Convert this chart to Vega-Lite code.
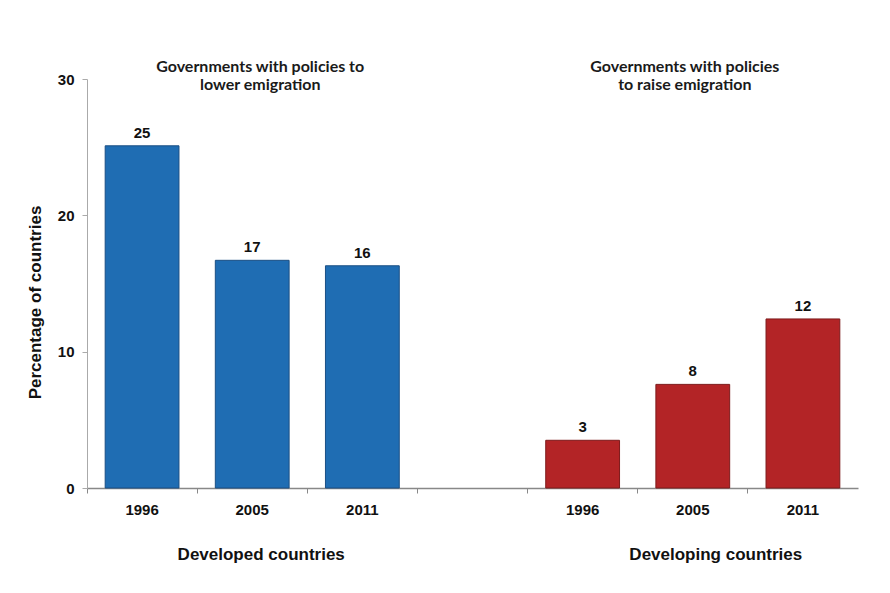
{
  "$schema": "https://vega.github.io/schema/vega-lite/v6.json",
  "width": 771,
  "height": 409,
  "autosize": "none",
  "padding": {"left": 87, "top": 79, "right": 32, "bottom": 105},
  "background": "#ffffff",
  "config": {
    "view": {"stroke": null},
    "font": "Liberation Sans"
  },
  "data": {
    "values": [
      {"cat": "D1996", "group": "Developed countries", "value": 25.1, "label": "25"},
      {"cat": "D2005", "group": "Developed countries", "value": 16.7, "label": "17"},
      {"cat": "D2011", "group": "Developed countries", "value": 16.3, "label": "16"},
      {"cat": "L1996", "group": "Developing countries", "value": 3.5, "label": "3"},
      {"cat": "L2005", "group": "Developing countries", "value": 7.6, "label": "8"},
      {"cat": "L2011", "group": "Developing countries", "value": 12.4, "label": "12"}
    ]
  },
  "encoding": {
    "x": {
      "field": "cat",
      "type": "nominal",
      "scale": {
        "domain": ["D1996", "D2005", "D2011", "gap", "L1996", "L2005", "L2011"],
        "paddingInner": 0,
        "paddingOuter": 0
      },
      "axis": {
        "title": null,
        "labelAngle": 0,
        "labelExpr": "datum.value == 'gap' ? '' : slice(datum.value, 1)",
        "labelFont": "Liberation Sans",
        "labelFontWeight": "bold",
        "labelFontSize": 15,
        "labelColor": "#111111",
        "labelPadding": 9,
        "bandPosition": 0,
        "tickSize": 5,
        "tickColor": "#888888",
        "domainColor": "#888888",
        "domainWidth": 1.5
      }
    }
  },
  "layer": [
    {
      "mark": {"type": "bar", "strokeWidth": 1, "width": {"band": 0.67}},
      "encoding": {
        "y": {
          "field": "value",
          "type": "quantitative",
          "scale": {"domain": [0, 30], "nice": false},
          "axis": {
            "title": "Percentage of countries",
            "values": [0, 10, 20, 30],
            "grid": false,
            "labelFont": "Liberation Sans",
            "labelFontWeight": "bold",
            "labelFontSize": 15,
            "labelColor": "#111111",
            "labelPadding": 8,
            "tickSize": 5,
            "tickColor": "#aaaaaa",
            "domainColor": "#aaaaaa",
            "titleFont": "Liberation Sans",
            "titleFontWeight": "bold",
            "titleFontSize": 17,
            "titleColor": "#111111",
            "titleAngle": -90,
            "titleAlign": "center",
            "titleBaseline": "middle",
            "titleX": -52,
            "titleY": 223
          }
        },
        "color": {
          "field": "group",
          "type": "nominal",
          "scale": {"domain": ["Developed countries", "Developing countries"], "range": ["#1f6db3", "#b32426"]},
          "legend": null
        },
        "stroke": {
          "field": "group",
          "type": "nominal",
          "scale": {"domain": ["Developed countries", "Developing countries"], "range": ["#1a4f84", "#7d1a1b"]},
          "legend": null
        }
      }
    },
    {
      "mark": {"type": "text", "baseline": "alphabetic", "dy": -8, "font": "Liberation Sans", "fontWeight": "bold", "fontSize": 15, "color": "#111111"},
      "encoding": {
        "y": {"field": "value", "type": "quantitative"},
        "text": {"field": "label"}
      }
    },
    {
      "data": {"values": [{"cat": "D2005", "text": ["Governments with policies to", "lower emigration"]}]},
      "mark": {"type": "text", "baseline": "alphabetic", "dx": 8, "lineHeight": 18, "font": "Lato", "fontWeight": "bold", "fontSize": 16, "color": "#1a1a1a"},
      "encoding": {
        "y": {"datum": 30.55, "type": "quantitative"},
        "text": {"field": "text"}
      }
    },
    {
      "data": {"values": [{"cat": "L2005", "text": ["Governments with policies", "to raise emigration"]}]},
      "mark": {"type": "text", "baseline": "alphabetic", "dx": -8, "lineHeight": 18, "font": "Lato", "fontWeight": "bold", "fontSize": 16, "color": "#1a1a1a"},
      "encoding": {
        "y": {"datum": 30.55, "type": "quantitative"},
        "text": {"field": "text"}
      }
    },
    {
      "data": {"values": [{"cat": "D2005", "text": "Developed countries"}]},
      "mark": {"type": "text", "baseline": "middle", "dx": 9, "font": "Liberation Sans", "fontWeight": "bold", "fontSize": 17, "color": "#111111"},
      "encoding": {
        "y": {"datum": -4.9, "type": "quantitative"},
        "text": {"field": "text"}
      }
    },
    {
      "data": {"values": [{"cat": "L2005", "text": "Developing countries"}]},
      "mark": {"type": "text", "baseline": "middle", "dx": 23, "font": "Liberation Sans", "fontWeight": "bold", "fontSize": 17, "color": "#111111"},
      "encoding": {
        "y": {"datum": -4.9, "type": "quantitative"},
        "text": {"field": "text"}
      }
    }
  ]
}
